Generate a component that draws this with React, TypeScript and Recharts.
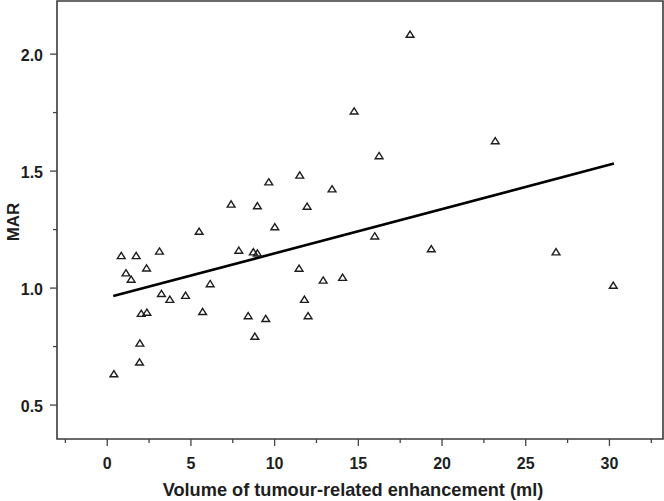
import React from 'react';
import { ScatterChart, Scatter, XAxis, YAxis, ReferenceLine, ReferenceArea } from 'recharts';

const volume = [
  0.84, 1.73, 3.12, 1.12, 1.43, 2.35, 3.24, 3.74, 4.68, 2.03, 2.37, 1.95, 1.93, 0.4,
  5.49, 5.7, 6.15, 7.4, 7.86, 8.42, 8.73, 8.97, 8.97, 8.82, 9.47, 9.65, 10.01,
  11.46, 11.5, 11.78, 11.94, 12.0, 12.9, 13.43, 14.06, 14.75, 15.98, 16.24, 18.09,
  19.36, 23.18, 26.81, 30.23,
];
const mar = [
  1.138, 1.138, 1.157, 1.064, 1.037, 1.085, 0.976, 0.951, 0.968, 0.891, 0.896, 0.764, 0.683, 0.633,
  1.242, 0.899, 1.018, 1.358, 1.161, 0.881, 1.154, 1.149, 1.351, 0.793, 0.869, 1.453, 1.261,
  1.084, 1.482, 0.951, 1.349, 0.881, 1.033, 1.423, 1.045, 1.756, 1.222, 1.565, 2.084,
  1.167, 1.629, 1.154, 1.011,
];
const fitLine = [
  { x: 0.36, y: 0.966 },
  { x: 30.27, y: 1.532 },
];
const xTicks = [-2.5, 0, 2.5, 5, 7.5, 10, 12.5, 15, 17.5, 20, 22.5, 25, 27.5, 30, 32.5];
const xMajor = [0, 5, 10, 15, 20, 25, 30];
const yTicks = [0.5, 0.75, 1.0, 1.25, 1.5, 1.75, 2.0];
const yMajor = [0.5, 1.0, 1.5, 2.0];
const xDomain = [-3, 33.2];
const yDomain = [0.355, 2.227];

const data = volume.map((v, i) => ({ x: v, y: mar[i] }));

const FONT = '"Liberation Sans", Arial, sans-serif';
const INK = '#1e1e1e';

const XTick = (props: any) => {
  const { x, y, payload } = props;
  const major = xMajor.includes(payload.value);
  return (
    <g>
      <line x1={x} x2={x} y1={y} y2={y + (major ? 7 : 4)} stroke="#444" strokeWidth={1.3} />
      {major && (
        <text x={x} y={y + 24.5} dy="0.36em" textAnchor="middle" fontFamily={FONT} fontSize={16} fontWeight="bold" fill={INK}>
          {payload.value}
        </text>
      )}
    </g>
  );
};

const YTick = (props: any) => {
  const { x, y, payload } = props;
  const major = yMajor.includes(payload.value);
  return (
    <g>
      <line x1={x - (major ? 7 : 4)} x2={x} y1={y} y2={y} stroke="#444" strokeWidth={1.3} />
      {major && (
        <text x={x - 14} y={y + 1} dy="0.36em" textAnchor="end" fontFamily={FONT} fontSize={16} fontWeight="bold" fill={INK}>
          {payload.value.toFixed(1)}
        </text>
      )}
    </g>
  );
};

const Triangle = (props: any) => {
  const { cx, cy } = props;
  if (cx == null || cy == null) return null;
  return (
    <path
      d={`M${cx},${cy - 3.4} L${cx + 3.9},${cy + 2.8} L${cx - 3.9},${cy + 2.8} Z`}
      fill="none"
      stroke="#1e1e1e"
      strokeWidth={1.4}
    />
  );
};

export default function App() {
  return (
    <div style={{ position: 'absolute', left: 0, top: 0, background: '#fff' }}>
      <ScatterChart width={664} height={501} margin={{ top: 1, right: 1, bottom: 0, left: 0 }}>
        <XAxis
          type="number"
          dataKey="x"
          domain={xDomain}
          ticks={xTicks}
          allowDataOverflow
          height={62}
          tickSize={0}
          tickMargin={0}
          axisLine={false}
          tickLine={false}
          tick={<XTick />}
          interval={0}
        />
        <YAxis
          type="number"
          dataKey="y"
          domain={yDomain}
          ticks={yTicks}
          allowDataOverflow
          width={57}
          tickSize={0}
          tickMargin={0}
          axisLine={false}
          tickLine={false}
          tick={<YTick />}
          interval={0}
        />
        <ReferenceArea
          x1={xDomain[0]}
          x2={xDomain[1]}
          y1={yDomain[0]}
          y2={yDomain[1]}
          fill="none"
          stroke="#3a3a3a"
          strokeWidth={1.6}
          ifOverflow="visible"
        />
        <ReferenceLine segment={fitLine} stroke="#000" strokeWidth={2.6} />
        <Scatter data={data} shape={<Triangle />} isAnimationActive={false} />
        <text x={353} y={495.5} textAnchor="middle" fontFamily={FONT} fontSize={18.2} fontWeight="bold" fill={INK}>
          Volume of tumour-related enhancement (ml)
        </text>
        <text x={19} y={222} transform="rotate(-90, 19, 222)" textAnchor="middle" fontFamily={FONT} fontSize={17} fontWeight="bold" fill={INK}>
          MAR
        </text>
      </ScatterChart>
    </div>
  );
}
